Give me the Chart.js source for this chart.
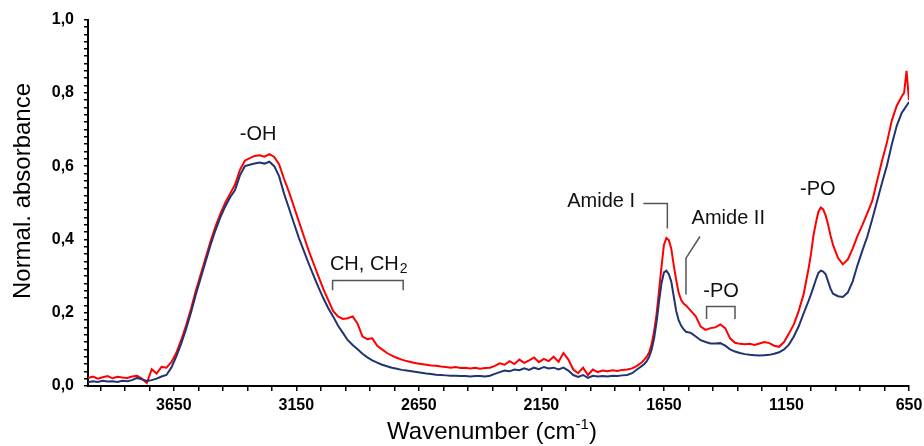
<!DOCTYPE html>
<html><head><meta charset="utf-8">
<script src="https://cdn.jsdelivr.net/npm/chart.js@4/dist/chart.umd.min.js"></script>
<style>html,body{margin:0;padding:0;background:#fff;}canvas{display:block;}</style>
</head><body>
<canvas id="c" width="924" height="446"></canvas>
<script>
// ---- DATA ----
const wavenumbers = [
 4000,3980,3960,3940,3920,3900,3880,3860,3840,3820,
 3800,3780,3760,3740,3720,3700,3680,3660,3640,3620,
 3600,3580,3560,3540,3520,3500,3480,3460,3440,3420,
 3400,3380,3360,3340,3320,3300,3280,3260,3240,3220,
 3200,3180,3160,3140,3120,3100,3080,3060,3040,3020,
 3000,2980,2960,2940,2920,2900,2880,2860,2840,2820,
 2800,2780,2760,2740,2720,2700,2680,2660,2640,2620,
 2600,2580,2560,2540,2520,2500,2480,2460,2440,2420,
 2400,2380,2360,2340,2320,2300,2280,2260,2240,2220,
 2200,2180,2160,2140,2120,2100,2080,2060,2040,2020,
 2000,1980,1960,1940,1920,1900,1880,1860,1840,1820,
 1800,1780,1760,
 1750,1740,1730,1720,1710,1700,1690,1680,1670,1660,
 1650,1640,1630,1620,1610,1600,1590,1580,1570,1560,
 1540,1520,1500,1480,1460,1440,1420,1400,1380,1360,
 1340,1320,1300,1280,1260,1240,1220,1200,1180,1160,
 1140,1120,1100,1080,
 1060,1050,1040,1030,1020,1010,1000,990,980,970,960,
 940,920,900,880,860,840,820,800,780,760,740,720,700,680,
 670,660,650
];
const navySeries = [
 0.010,0.013,0.011,0.014,0.012,0.013,0.011,0.014,0.013,0.016,
 0.022,0.018,0.014,0.016,0.020,0.026,0.030,0.050,0.080,0.115,
 0.155,0.200,0.250,0.295,0.340,0.385,0.425,0.460,0.490,0.515,
 0.535,0.575,0.600,0.604,0.607,0.610,0.607,0.612,0.600,0.572,
 0.525,0.485,0.445,0.405,0.370,0.335,0.302,0.270,0.240,0.213,
 0.190,0.165,0.145,0.125,0.112,0.100,0.088,0.078,0.070,0.064,
 0.058,0.054,0.050,0.047,0.044,0.042,0.040,0.038,0.036,0.034,
 0.033,0.031,0.030,0.029,0.028,0.028,0.027,0.027,0.026,0.027,
 0.027,0.026,0.028,0.033,0.038,0.042,0.040,0.045,0.043,0.048,
 0.044,0.050,0.046,0.052,0.048,0.050,0.045,0.050,0.042,0.030,
 0.025,0.030,0.022,0.028,0.026,0.027,0.026,0.028,0.027,0.029,
 0.030,0.035,0.045,
 0.050,0.055,0.060,0.068,0.080,0.100,0.130,0.175,0.230,0.280,
 0.310,0.315,0.305,0.285,0.245,0.205,0.180,0.165,0.155,0.148,
 0.145,0.135,0.125,0.120,0.116,0.116,0.117,0.110,0.100,0.094,
 0.090,0.087,0.085,0.084,0.083,0.084,0.085,0.088,0.092,0.100,
 0.113,0.135,0.163,0.198,
 0.232,0.250,0.270,0.290,0.308,0.315,0.312,0.305,0.285,0.265,0.252,
 0.245,0.243,0.255,0.285,0.330,0.370,0.408,0.455,0.505,0.555,0.602,0.660,0.710,0.745,
 0.755,0.765,0.775
];
const redSeries = [
 0.022,0.026,0.020,0.024,0.027,0.021,0.025,0.023,0.022,0.026,
 0.028,0.020,0.008,0.046,0.034,0.052,0.050,0.065,0.090,0.125,
 0.165,0.210,0.260,0.305,0.350,0.395,0.435,0.470,0.500,0.525,
 0.550,0.590,0.615,0.622,0.628,0.630,0.626,0.633,0.625,0.605,
 0.565,0.530,0.490,0.450,0.410,0.370,0.335,0.300,0.265,0.235,
 0.205,0.190,0.183,0.185,0.190,0.170,0.135,0.128,0.130,0.110,
 0.100,0.090,0.083,0.077,0.072,0.068,0.065,0.062,0.060,0.058,
 0.056,0.055,0.053,0.052,0.050,0.052,0.049,0.050,0.048,0.050,
 0.047,0.049,0.050,0.055,0.062,0.058,0.068,0.060,0.072,0.063,
 0.070,0.078,0.065,0.074,0.068,0.080,0.066,0.090,0.072,0.045,
 0.035,0.050,0.030,0.045,0.038,0.042,0.040,0.043,0.041,0.044,
 0.045,0.048,0.055,
 0.060,0.065,0.072,0.080,0.092,0.115,0.150,0.196,0.260,0.325,
 0.385,0.404,0.398,0.375,0.330,0.290,0.255,0.235,0.225,0.220,
 0.205,0.190,0.162,0.153,0.158,0.160,0.168,0.158,0.130,0.118,
 0.115,0.114,0.115,0.112,0.116,0.120,0.117,0.110,0.107,0.120,
 0.143,0.168,0.205,0.250,
 0.320,0.360,0.410,0.445,0.475,0.487,0.482,0.465,0.440,0.410,0.385,
 0.350,0.332,0.345,0.375,0.410,0.440,0.472,0.505,0.560,0.615,0.665,0.725,0.765,0.790,
 0.800,0.860,0.780
];
const xTickValues = [650,750,850,950,1050,1150,1250,1350,1450,1550,1650,1750,1850,1950,2050,2150,2250,2350,2450,2550,2650,2750,2850,2950,3050,3150,3250,3350,3450,3550,3650,3750,3850,3950];
const xTickLabels = ['650','1150','1650','2150','2650','3150','3650'];
const yTickValues = [];
for (let i = 0; i <= 50; i++) yTickValues.push(i / 50);
const yTickLabels = ['0,0','0,2','0,4','0,6','0,8','1,0'];
const annotationTexts = ['-OH', 'CH, CH', 'Amide I', 'Amide II', '-PO', '-PO'];
// ---- END DATA ----

const navyPts = wavenumbers.map((w, i) => ({x: w, y: navySeries[i]}));
const redPts = wavenumbers.map((w, i) => ({x: w, y: redSeries[i]}));

const FONT = "'Liberation Sans', Arial, sans-serif";

const annot = {
  id: 'annot',
  afterDatasetsDraw(chart) {
    const ctx = chart.ctx, X = chart.scales.x, Y = chart.scales.y;
    const px = w => X.getPixelForValue(w), py = v => Y.getPixelForValue(v);
    ctx.save();
    ctx.fillStyle = '#111';
    ctx.font = '20px ' + FONT;
    ctx.textBaseline = 'middle';
    // -OH
    ctx.textAlign = 'center';
    ctx.fillText(annotationTexts[0], px(3306), py(0.687));
    // CH, CH2
    ctx.textAlign = 'left';
    const chx = px(3013), chy = py(0.332);
    ctx.fillText(annotationTexts[1], chx, chy);
    const wch = ctx.measureText(annotationTexts[1]).width;
    ctx.font = '14px ' + FONT;
    ctx.fillText('2', chx + wch + 1, chy + 5);
    ctx.font = '20px ' + FONT;
    // Amide I
    ctx.textAlign = 'right';
    ctx.fillText(annotationTexts[2], px(1768), py(0.503));
    // Amide II
    ctx.textAlign = 'left';
    ctx.fillText(annotationTexts[3], px(1537), py(0.458));
    // -PO small
    ctx.textAlign = 'center';
    ctx.fillText(annotationTexts[4], px(1417), py(0.259));
    // -PO big
    ctx.fillText(annotationTexts[5], px(1022), py(0.536));

    // brackets / leader lines
    ctx.strokeStyle = '#555';
    ctx.lineWidth = 1.5;
    const path = pts => {
      ctx.beginPath();
      pts.forEach((p, i) => { const a = px(p[0]), b = py(p[1]); i ? ctx.lineTo(a, b) : ctx.moveTo(a, b); });
      ctx.stroke();
    };
    path([[3002, 0.261], [3002, 0.288], [2714, 0.288], [2714, 0.261]]);
    path([[1734, 0.498], [1636, 0.498], [1636, 0.43]]);
    path([[1503, 0.408], [1560, 0.349], [1560, 0.25]]);
    path([[1476, 0.183], [1476, 0.217], [1360, 0.217], [1360, 0.183]]);

    // axis titles
    ctx.fillStyle = '#000';
    ctx.font = '24px ' + FONT;
    ctx.textAlign = 'center';
    ctx.textBaseline = 'alphabetic';
    const main = 'Wavenumber (cm';
    ctx.font = '24px ' + FONT;
    const w1 = ctx.measureText(main).width;
    ctx.font = '15px ' + FONT;
    const w2 = ctx.measureText('-1').width;
    ctx.font = '24px ' + FONT;
    const w3 = ctx.measureText(')').width;
    let sx = 492 - (w1 + w2 + w3) / 2, base = 439;
    ctx.textAlign = 'left';
    ctx.fillText(main, sx, base);
    ctx.font = '15px ' + FONT;
    ctx.fillText('-1', sx + w1, base - 10);
    ctx.font = '24px ' + FONT;
    ctx.fillText(')', sx + w1 + w2, base);

    ctx.translate(23, 191);
    ctx.rotate(-Math.PI / 2);
    ctx.textAlign = 'center';
    ctx.textBaseline = 'middle';
    ctx.fillText('Normal. absorbance', 0, 0);
    ctx.restore();
  }
};

new Chart(document.getElementById('c'), {
  type: 'line',
  data: {
    datasets: [
      {label: 'navy', data: navyPts, borderColor: '#1F3470', borderWidth: 2, pointRadius: 0, tension: 0, order: 0, fill: false},
      {label: 'red', data: redPts, borderColor: '#FF0000', borderWidth: 2, pointRadius: 0, tension: 0, order: 1, fill: false}
    ]
  },
  options: {
    responsive: false, animation: false, devicePixelRatio: 1,
    layout: {padding: {left: 0, right: 15, top: 16, bottom: 0}},
    plugins: {legend: {display: false}, tooltip: {enabled: false}},
    scales: {
      x: {
        type: 'linear', reverse: true, min: 650, max: 4000,
        afterBuildTicks: s => { s.ticks = xTickValues.map(v => ({value: v})); },
        afterFit: s => { s.height = 60; },
        ticks: {
          autoSkip: false, maxRotation: 0, minRotation: 0, padding: 5, color: '#000',
          font: {family: FONT, size: 16, weight: 'bold'},
          callback: v => xTickLabels.includes(String(v)) ? String(v) : ''
        },
        grid: {drawOnChartArea: false, drawTicks: true, tickLength: 5, color: '#000', lineWidth: 1.5},
        border: {display: true, color: '#000', width: 2}
      },
      y: {
        min: 0, max: 1,
        afterBuildTicks: s => { s.ticks = yTickValues.map(v => ({value: v})); },
        afterFit: s => { s.width = 88; },
        ticks: {
          autoSkip: false, padding: 10, color: '#000',
          font: {family: FONT, size: 16, weight: 'bold'},
          callback: v => { const k = Math.round(v * 50); return k % 10 === 0 ? yTickLabels[k / 10] : ''; }
        },
        grid: {drawOnChartArea: false, drawTicks: true, tickLength: 4, color: '#000', lineWidth: 1.5},
        border: {display: true, color: '#000', width: 2}
      }
    }
  },
  plugins: [annot]
});
</script>
</body></html>
